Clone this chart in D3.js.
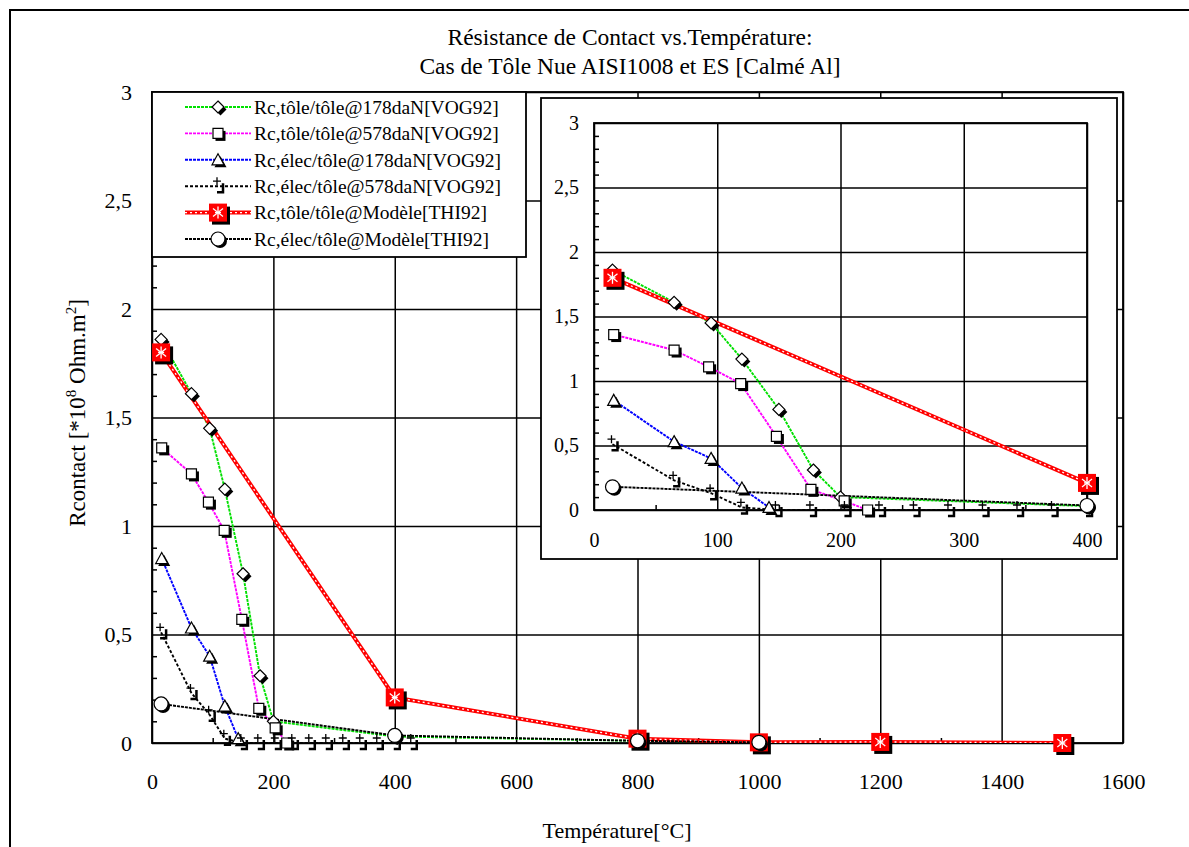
<!DOCTYPE html>
<html>
<head>
<meta charset="utf-8">
<script src="https://cdn.jsdelivr.net/npm/d3@7"></script>
<style>
  body { margin: 0; background: #fff; }
  text { font-family: "Liberation Serif", "Times New Roman", serif; fill: #000; }
</style>
</head>
<body>
<svg width="1189" height="847"></svg>
<script>
// titles and labels
const titleLines = ['Résistance de Contact vs.Température:', 'Cas de Tôle Nue AISI1008 et ES [Calmé Al]'];
const xTitle = 'Température[°C]';

// ticks
const xTicksMain = [0, 200, 400, 600, 800, 1000, 1200, 1400, 1600];
const xTicksInset = [0, 100, 200, 300, 400];
const yTicks = [0, 0.5, 1, 1.5, 2, 2.5, 3];
const yTickLabels = ['0', '0,5', '1', '1,5', '2', '2,5', '3'];

// series (temperature °C, Rcontact *1e8 Ohm.m2)
const seriesNames = [
  'Rc,tôle/tôle@178daN[VOG92]',
  'Rc,tôle/tôle@578daN[VOG92]',
  'Rc,élec/tôle@178daN[VOG92]',
  'Rc,élec/tôle@578daN[VOG92]',
  'Rc,tôle/tôle@Modèle[THI92]',
  'Rc,élec/tôle@Modèle[THI92]'
];
const tSheet178 = [15, 65, 95, 120, 150, 178, 200, 400, 800, 1000];
const rSheet178 = [1.86, 1.61, 1.45, 1.17, 0.78, 0.31, 0.10, 0.03, 0.01, 0.005];
const tSheet578 = [16, 65, 93, 119, 148, 176, 203, 222];
const rSheet578 = [1.36, 1.24, 1.11, 0.98, 0.57, 0.16, 0.07, 0.0];
const tElec178 = [16, 65, 95, 120, 142];
const rElec178 = [0.85, 0.53, 0.40, 0.17, 0.02];
const tElec578 = [15, 65, 95, 120, 148, 176, 204, 232, 260, 288, 316, 344, 372, 400, 428];
const rElec578 = [0.51, 0.23, 0.13, 0.02, 0, 0, 0, 0, 0, 0, 0, 0, 0, 0, 0];
const tSheetModel = [15, 400, 800, 1000, 1200, 1500];
const rSheetModel = [1.80, 0.21, 0.02, 0.003, 0.005, 0.0];
const tElecModel = [15, 400, 800, 1000];
const rElecModel = [0.18, 0.035, 0.01, 0.003];

const zip = (t, r) => t.map((v, i) => ({ t: v, r: r[i] }));
const series = [
  { name: seriesNames[0], data: zip(tSheet178, rSheet178), color: '#00e000', dash: '3,1', mark: 'diamond' },
  { name: seriesNames[1], data: zip(tSheet578, rSheet578), color: '#ff00ff', dash: '3,1', mark: 'square' },
  { name: seriesNames[2], data: zip(tElec178, rElec178), color: '#0000ff', dash: '3,1', mark: 'triangle' },
  { name: seriesNames[3], data: zip(tElec578, rElec578), color: '#000', dash: '3,2', mark: 'plus' },
  { name: seriesNames[4], data: zip(tSheetModel, rSheetModel), color: '#ff0000', dash: null, mark: 'red' },
  { name: seriesNames[5], data: zip(tElecModel, rElecModel), color: '#000', dash: '3,1', mark: 'circle' }
];

const svg = d3.select('svg');

// outer frame
svg.append('rect')
  .attr('x', 10).attr('y', 10).attr('width', 1400).attr('height', 1000)
  .attr('fill', 'none').attr('stroke', '#000').attr('stroke-width', 2);

// titles
svg.selectAll('text.title').data(titleLines).enter().append('text')
  .attr('class', 'title')
  .attr('x', 630).attr('y', (d, i) => 45 + i * 29)
  .attr('text-anchor', 'middle').attr('font-size', 23.5)
  .text(d => d);

svg.append('text')
  .attr('x', 617).attr('y', 838)
  .attr('text-anchor', 'middle').attr('font-size', 22)
  .text(xTitle);

const yLab = svg.append('text')
  .attr('transform', 'translate(85,413) rotate(-90)')
  .attr('text-anchor', 'middle').attr('font-size', 23);
yLab.append('tspan').text('Rcontact [*10');
yLab.append('tspan').attr('dy', -9).attr('font-size', 15).text('8');
yLab.append('tspan').attr('dy', 9).text(' Ohm.m');
yLab.append('tspan').attr('dy', -9).attr('font-size', 15).text('2');
yLab.append('tspan').attr('dy', 9).text(']');

// ---------- marker drawing ----------
const shapePath = {
  diamond: 'M0,-6L6,0L0,6L-6,0Z',
  square: 'M-5,-5H5V5H-5Z',
  triangle: 'M0,-6L6,5H-6Z'
};
const drawMarker = (g, kind, px, py) => {
  const m = g.append('g').attr('transform', `translate(${px},${py})`);
  if (kind === 'red') {
    m.append('rect').attr('x', -6).attr('y', -6).attr('width', 18).attr('height', 18).attr('fill', '#000');
    m.append('rect').attr('x', -9).attr('y', -9).attr('width', 18).attr('height', 18).attr('fill', '#ff0000');
    const star = [[0, -6, 0, 6], [-5, -4, 5, 4], [-5, 4, 5, -4], [-3, 0, 3, 0]];
    star.forEach(s => m.append('line')
      .attr('x1', s[0]).attr('y1', s[1]).attr('x2', s[2]).attr('y2', s[3])
      .attr('stroke', '#fff').attr('stroke-width', 1.3));
  } else if (kind === 'plus') {
    m.append('path').attr('d', 'M5,-3V6H-1').attr('fill', 'none').attr('stroke', '#000').attr('stroke-width', 2.5);
    m.append('path').attr('d', 'M-5,-5H3M-1,-9V-1').attr('fill', 'none').attr('stroke', '#000').attr('stroke-width', 1.3);
  } else if (kind === 'circle') {
    m.append('circle').attr('cx', 2).attr('cy', 2).attr('r', 7).attr('fill', '#000');
    m.append('circle').attr('r', 7).attr('fill', '#fff').attr('stroke', '#000').attr('stroke-width', 1.2);
  } else {
    m.append('path').attr('d', shapePath[kind]).attr('transform', 'translate(2.5,2.5)').attr('fill', '#000');
    m.append('path').attr('d', shapePath[kind]).attr('fill', '#fff').attr('stroke', '#000').attr('stroke-width', 1.2);
  }
};

const drawLine = (g, s, pts) => {
  if (s.mark === 'red') {
    g.append('path').attr('d', pts).attr('fill', 'none')
      .attr('stroke', s.color).attr('stroke-width', 4);
    g.append('path').attr('d', pts).attr('fill', 'none')
      .attr('stroke', '#fff').attr('stroke-width', 1.3).attr('stroke-dasharray', '2,3');
  } else {
    g.append('path').attr('d', pts).attr('fill', 'none')
      .attr('stroke', s.color).attr('stroke-width', 1.9).attr('stroke-dasharray', s.dash);
  }
};

// ---------- panel (grid, ticks, labels, data) ----------
const drawPanel = (opts) => {
  const { x, y, xTicks, xMinor, yMinor, fontSize, xPad, yPad, tMax, clipId } = opts;
  const [x0, x1] = x.range();
  const [y0, y1] = y.range();
  const g = svg.append('g');

  const xAxis = g.append('g').attr('transform', `translate(0,${y0})`)
    .call(d3.axisBottom(x).tickValues(xTicks).tickSize(-(y0 - y1)).tickPadding(xPad).tickFormat(d3.format('d')));
  const yAxis = g.append('g').attr('transform', `translate(${x0},0)`)
    .call(d3.axisLeft(y).tickValues(yTicks).tickSize(-(x1 - x0)).tickPadding(yPad)
      .tickFormat((d, i) => yTickLabels[i]));
  g.append('g').attr('transform', `translate(0,${y0})`)
    .call(d3.axisBottom(x).tickValues(xMinor).tickSize(-5).tickFormat(''));
  g.append('g').attr('transform', `translate(${x0},0)`)
    .call(d3.axisLeft(y).tickValues(yMinor).tickSize(-5).tickFormat(''));

  g.selectAll('.domain').remove();
  g.selectAll('.tick line').attr('stroke', '#000').attr('stroke-width', 1.5);
  [xAxis, yAxis].forEach(a => a.attr('font-family', null).attr('font-size', fontSize));
  g.selectAll('.tick text').attr('fill', '#000');

  g.append('rect')
    .attr('x', x0).attr('y', y1).attr('width', x1 - x0).attr('height', y0 - y1)
    .attr('fill', 'none').attr('stroke', '#000').attr('stroke-width', 1.8);

  svg.append('clipPath').attr('id', clipId).append('rect')
    .attr('x', x0).attr('y', y1).attr('width', x1 - x0).attr('height', y0 - y1);

  const line = d3.line().x(d => x(d.t)).y(d => y(d.r));
  const lines = g.append('g').attr('clip-path', `url(#${clipId})`);
  series.forEach(s => drawLine(lines, s, line(s.data)));

  series.forEach(s => {
    s.data.filter(d => d.t <= tMax).forEach(d => drawMarker(g, s.mark, x(d.t), y(d.r)));
  });
};

// main chart
const xMain = d3.scaleLinear().domain([0, 1600]).range([152, 1123]);
const yMain = d3.scaleLinear().domain([0, 3]).range([743, 92]);
const minorY = d3.range(1, 30).filter(v => v % 5 !== 0).map(v => v / 10);

drawPanel({
  x: xMain, y: yMain, xTicks: xTicksMain,
  xMinor: d3.range(100, 1600, 200), yMinor: minorY,
  fontSize: 22, xPad: 30, yPad: 20, tMax: 1600, clipId: 'clipMain'
});

// legend
const legend = svg.append('g');
legend.append('rect')
  .attr('x', 152).attr('y', 92).attr('width', 374).attr('height', 165)
  .attr('fill', '#fff').attr('stroke', '#000').attr('stroke-width', 1.8);
series.forEach((s, i) => {
  const ly = 107 + i * 26.4;
  drawLine(legend, s, `M185,${ly}H251`);
  drawMarker(legend, s.mark, 218, ly);
  legend.append('text')
    .attr('x', 254).attr('y', ly).attr('dy', '0.35em')
    .attr('font-size', 19.5).text(s.name);
});

// inset box
svg.append('rect')
  .attr('x', 541).attr('y', 98).attr('width', 576).attr('height', 461)
  .attr('fill', '#fff').attr('stroke', '#000').attr('stroke-width', 1.8);

const xIn = d3.scaleLinear().domain([0, 400]).range([594, 1087]);
const yIn = d3.scaleLinear().domain([0, 3]).range([510, 123]);

drawPanel({
  x: xIn, y: yIn, xTicks: xTicksInset,
  xMinor: [50, 150, 250, 350], yMinor: minorY,
  fontSize: 20, xPad: 23, yPad: 15, tMax: 400, clipId: 'clipInset'
});
</script>
</body>
</html>
